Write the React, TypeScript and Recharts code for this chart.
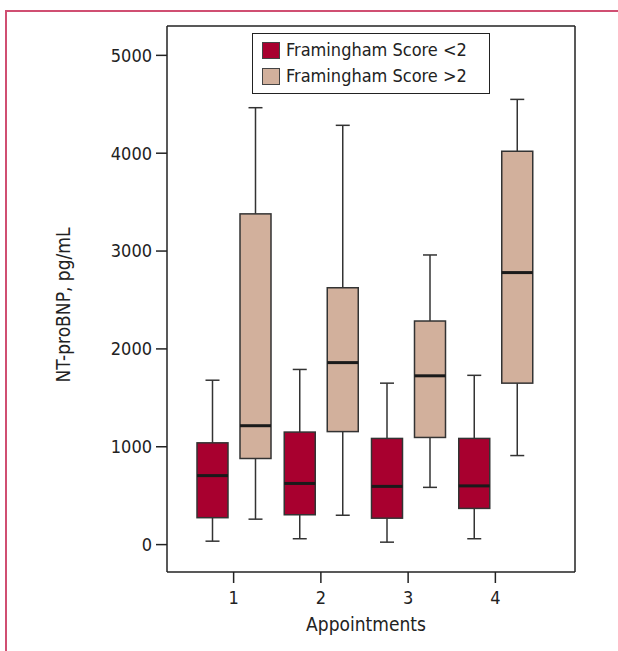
import React from 'react';
import { ComposedChart, Bar, XAxis, YAxis, Legend } from 'recharts';

// five-number summaries, pg/mL
const appointments = ['1', '2', '3', '4'];
const lowMin = [35, 60, 25, 60];
const lowQ1 = [275, 305, 270, 370];
const lowMedian = [705, 625, 595, 600];
const lowQ3 = [1040, 1150, 1085, 1085];
const lowMax = [1680, 1790, 1650, 1730];
const highMin = [260, 300, 585, 910];
const highQ1 = [880, 1155, 1095, 1650];
const highMedian = [1215, 1860, 1725, 2780];
const highQ3 = [3380, 2625, 2285, 4020];
const highMax = [4465, 4285, 2960, 4550];
const yTicks = [0, 1000, 2000, 3000, 4000, 5000];

const FONT = "'Liberation Sans Narrow', 'DejaVu Sans Condensed', 'Liberation Sans', sans-serif";
const RED = '#a8002f';
const TAN = '#d2b09c';
const INK = '#222';

const data = appointments.map((appt, i) => ({
  appt,
  lowBox: [lowQ1[i], lowQ3[i]],
  highBox: [highQ1[i], highQ3[i]],
  lowMin: lowMin[i],
  lowMedian: lowMedian[i],
  lowMax: lowMax[i],
  highMin: highMin[i],
  highMedian: highMedian[i],
  highMax: highMax[i],
}));

function renderBox(props: any, series: 'low' | 'high') {
  const { x, y, width, height, payload, fill } = props;
  const [q1, q3] = payload[series + 'Box'];
  const top = Math.min(y, y + height);
  const h = Math.abs(height);
  const unit = h / (q3 - q1);
  const toY = (v: number) => top + (q3 - v) * unit;
  const cx = x + width / 2;
  const yMax = toY(payload[series + 'Max']);
  const yMin = toY(payload[series + 'Min']);
  const yMed = toY(payload[series + 'Median']);
  return (
    <g>
      <line x1={cx} x2={cx} y1={yMax} y2={top} stroke="#333" strokeWidth={1.5} />
      <line x1={cx} x2={cx} y1={top + h} y2={yMin} stroke="#333" strokeWidth={1.5} />
      <line x1={cx - 7} x2={cx + 7} y1={yMax} y2={yMax} stroke="#333" strokeWidth={1.5} />
      <line x1={cx - 7} x2={cx + 7} y1={yMin} y2={yMin} stroke="#333" strokeWidth={1.5} />
      <rect x={x} y={top} width={width} height={h} fill={fill} stroke="#333" strokeWidth={1.5} />
      <line x1={x} x2={x + width} y1={yMed} y2={yMed} stroke="#1a1a1a" strokeWidth={3} />
    </g>
  );
}

function LegendBox({ payload }: any) {
  return (
    <div
      style={{
        width: 238,
        height: 61,
        boxSizing: 'border-box',
        border: `1.5px solid ${INK}`,
        background: '#fff',
        padding: '3px 0 0 9px',
        fontFamily: FONT,
        fontSize: 18,
        color: INK,
        whiteSpace: 'nowrap',
      }}
    >
      {(payload || []).map((entry: any) => (
        <div key={entry.value} style={{ display: 'flex', alignItems: 'center', height: 26 }}>
          <span
            style={{
              display: 'inline-block',
              width: 18,
              height: 17,
              boxSizing: 'border-box',
              background: entry.color,
              border: '1px solid #444',
              marginRight: 6,
            }}
          />
          <span style={{ lineHeight: '26px' }}>{entry.value}</span>
        </div>
      ))}
    </div>
  );
}

export default function App() {
  return (
    <div style={{ position: 'absolute', left: 0, top: 0, width: 618, height: 651, background: '#fff' }}>
      <div
        style={{
          position: 'absolute',
          left: 5,
          top: 10,
          right: 0,
          bottom: 0,
          borderTop: '2px solid #d04f72',
          borderLeft: '2px solid #d04f72',
        }}
      />
      <ComposedChart
        width={618}
        height={651}
        data={data}
        margin={{ top: 25, right: 42, bottom: 0, left: 0 }}
        barSize={31}
        barGap={12}
        style={{ position: 'absolute', left: 0, top: 0 }}
      >
        <XAxis
          dataKey="appt"
          height={79}
          padding={{ left: 23, right: 36 }}
          stroke={INK}
          strokeWidth={1.5}
          tickSize={11}
          tickMargin={8}
          tick={{ fontSize: 18, fill: INK, fontFamily: FONT }}
          label={{
            value: 'Appointments',
            position: 'insideBottom',
            offset: 20,
            dx: -5,
            style: { fontSize: 19, fill: INK, fontFamily: FONT },
          }}
        />
        <XAxis xAxisId="top" dataKey="appt" orientation="top" height={1} tick={false} tickLine={false} stroke={INK} strokeWidth={1.5} />
        <YAxis
          width={167}
          domain={[-280, 5300]}
          ticks={yTicks}
          stroke={INK}
          strokeWidth={1.5}
          tickSize={11}
          tickMargin={4}
          tick={{ fontSize: 18, fill: INK, fontFamily: FONT }}
          label={{
            value: 'NT-proBNP, pg/mL',
            angle: -90,
            position: 'insideLeft',
            offset: 63,
            dy: 6,
            style: { fontSize: 19, fill: INK, fontFamily: FONT, textAnchor: 'middle' },
          }}
        />
        <YAxis yAxisId="right" orientation="right" width={1} domain={[-280, 5300]} tick={false} tickLine={false} stroke={INK} strokeWidth={1.5} />
        <Legend
          layout="vertical"
          align="center"
          verticalAlign="middle"
          wrapperStyle={{ top: 33, left: 252, width: 'auto' }}
          content={<LegendBox />}
        />
        <Bar dataKey="lowBox" name="Framingham Score <2" fill={RED} isAnimationActive={false} shape={(p: any) => renderBox(p, 'low')} />
        <Bar dataKey="highBox" name="Framingham Score >2" fill={TAN} isAnimationActive={false} shape={(p: any) => renderBox(p, 'high')} />
      </ComposedChart>
    </div>
  );
}
